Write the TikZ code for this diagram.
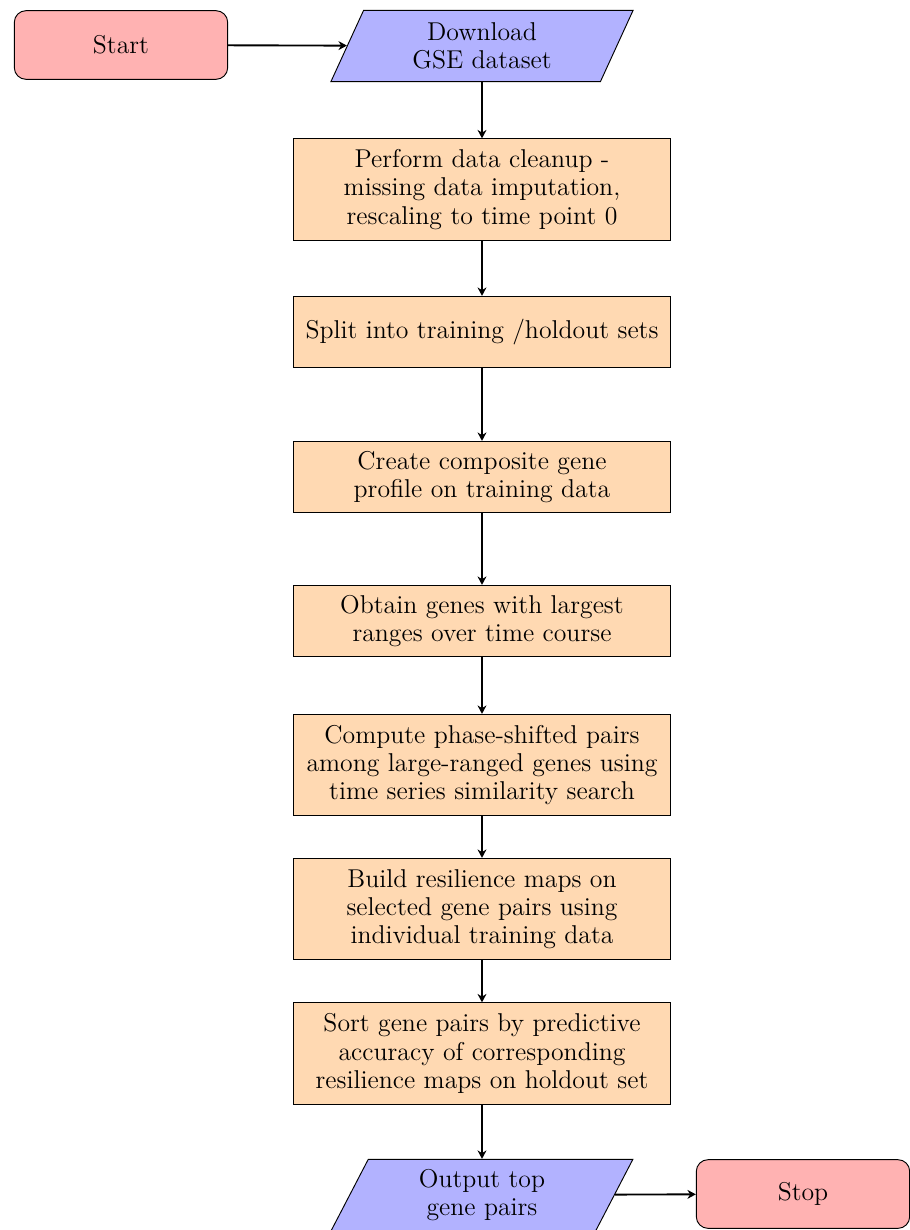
\documentclass[tikz,border=0pt]{standalone}
\usepackage{tikz}
\usetikzlibrary{arrows.meta,shapes.geometric}

\begin{document}
\begin{tikzpicture}[>={Stealth[length=3.6pt,width=3.8pt]},x=0.015cm,y=-0.015cm,
  every node/.style={font=\fontsize{11}{12}\selectfont},
  terminal/.style={rectangle,rounded corners=5pt,draw,fill=red!30,
    minimum width=3.2cm,minimum height=1.03cm},
  io/.style={trapezium,trapezium left angle=71,trapezium right angle=109,
    trapezium stretches=true,draw,fill=blue!30,align=center,
    minimum width=4.55cm,minimum height=1.07cm},
  process/.style={rectangle,draw,fill=orange!30,align=center,
    minimum width=5.65cm,minimum height=1.07cm},
  tall/.style={minimum height=1.52cm},
  flow/.style={->,thick}]
  \useasboundingbox (0,0) rectangle (909,1230);
  % top row: start and input
  \node[terminal] (start) at (121,45) {Start};
  \node[io] (download) at (482,46) {Download\\GSE dataset};
  % main column of steps
  \node[process,tall] (cleanup) at (482,189.5) {Perform data cleanup -\\missing data imputation,\\rescaling to time point 0};
  \node[process] (split) at (482,332) {Split into training /holdout sets};
  \node[process] (composite) at (482,477) {Create composite gene\\profile on training data};
  \node[process] (ranges) at (482,621) {Obtain genes with largest\\ranges over time course};
  \node[process,tall] (pairs) at (482,765) {Compute phase-shifted pairs\\among large-ranged genes using\\time series similarity search};
  \node[process,tall] (maps) at (482,909) {Build resilience maps on\\selected gene pairs using\\individual training data};
  \node[process,tall] (sort) at (482,1053.5) {Sort gene pairs by predictive\\accuracy of corresponding\\resilience maps on holdout set};
  % bottom row: output and stop
  \node[io] (output) at (482,1195) {Output top\\gene pairs};
  \node[terminal] (stop) at (803,1194) {Stop};
  % connectors
  \draw[flow] (start) -- (download);
  \draw[flow] (download) -- (cleanup);
  \draw[flow] (cleanup) -- (split);
  \draw[flow] (split) -- (composite);
  \draw[flow] (composite) -- (ranges);
  \draw[flow] (ranges) -- (pairs);
  \draw[flow] (pairs) -- (maps);
  \draw[flow] (maps) -- (sort);
  \draw[flow] (sort) -- (output);
  \draw[flow] (output) -- (stop);
\end{tikzpicture}
\end{document}
